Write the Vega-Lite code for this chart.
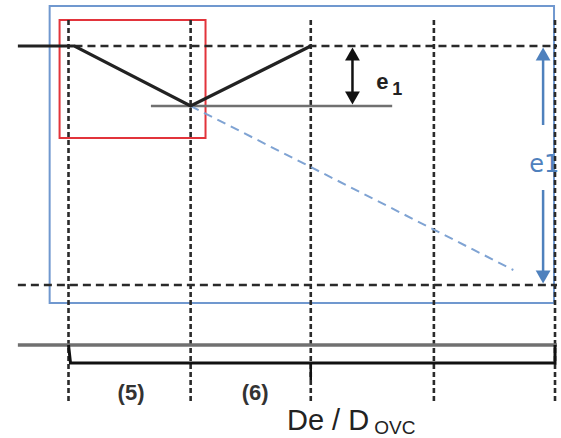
{
  "$schema": "https://vega.github.io/schema/vega-lite/v6.json",
  "autosize": {"type": "fit", "contains": "padding"},
  "width": 561,
  "height": 438,
  "padding": 0,
  "background": "white",
  "config": {"view": {"stroke": null}},
  "datasets": {
    "vdots": [
      {"x": 69, "y": 20, "y2": 402},
      {"x": 192, "y": 20, "y2": 402},
      {"x": 313, "y": 20, "y2": 402},
      {"x": 437, "y": 20, "y2": 402},
      {"x": 559, "y": 20, "y2": 402}
    ],
    "hdash": [
      {"x": 75, "x2": 561, "y": 46},
      {"x": 18, "x2": 561, "y": 285}
    ],
    "profile": [
      {"x": 18, "y": 46, "o": 1},
      {"x": 75, "y": 46, "o": 2},
      {"x": 192, "y": 106, "o": 3},
      {"x": 313, "y": 46, "o": 4}
    ],
    "grayrules": [
      {"x": 152, "x2": 395, "y": 106, "w": 2.5},
      {"x": 18, "x2": 561, "y": 345, "w": 3.5}
    ],
    "bluedash": [
      {"x": 192, "y": 106, "x2": 517, "y2": 270}
    ],
    "boxes": [
      {"x": 50, "x2": 558, "y": 6, "y2": 303, "c": "blue"},
      {"x": 60, "x2": 207, "y": 20, "y2": 138, "c": "red"}
    ],
    "bracket": [
      {"x": 69, "y": 345, "o": 1},
      {"x": 71, "y": 363, "o": 2},
      {"x": 559, "y": 363, "o": 3},
      {"x": 559, "y": 345, "o": 4}
    ],
    "blackrules": [
      {"x": 313, "x2": 313, "y": 363, "y2": 380},
      {"x": 355, "x2": 355, "y": 52, "y2": 100}
    ],
    "bluerules": [
      {"x": 547, "x2": 547, "y": 52, "y2": 125},
      {"x": 547, "x2": 547, "y": 190, "y2": 279}
    ],
    "heads": [
      {"x": 355, "y": 54, "shape": "triangle-up", "c": "black"},
      {"x": 355, "y": 98, "shape": "triangle-down", "c": "black"},
      {"x": 547, "y": 54, "shape": "triangle-up", "c": "blue"},
      {"x": 547, "y": 277, "shape": "triangle-down", "c": "blue"}
    ]
  },
  "layer": [
    {
      "data": {"name": "boxes"},
      "mark": {"type": "rect", "fill": null, "filled": false, "strokeWidth": 2},
      "encoding": {
        "x": {"field": "x", "type": "quantitative", "scale": {"domain": [0, 561], "nice": false, "zero": false}, "axis": null},
        "x2": {"field": "x2"},
        "y": {"field": "y", "type": "quantitative", "scale": {"domain": [0, 438], "nice": false, "zero": false, "reverse": true}, "axis": null},
        "y2": {"field": "y2"},
        "stroke": {"field": "c", "type": "nominal", "scale": {"domain": ["blue", "red", "black"], "range": ["#7098cf", "#e2343b", "#222222"]}, "legend": null}
      }
    },
    {
      "data": {"name": "vdots"},
      "mark": {"type": "rule", "color": "#2a2a2a", "strokeWidth": 2.6, "strokeDash": [5, 3]},
      "encoding": {
        "x": {"field": "x", "type": "quantitative"},
        "y": {"field": "y", "type": "quantitative"},
        "y2": {"field": "y2"}
      }
    },
    {
      "data": {"name": "hdash"},
      "mark": {"type": "rule", "color": "#2a2a2a", "strokeWidth": 2.6, "strokeDash": [8, 5]},
      "encoding": {
        "x": {"field": "x", "type": "quantitative"},
        "x2": {"field": "x2"},
        "y": {"field": "y", "type": "quantitative"}
      }
    },
    {
      "data": {"name": "grayrules"},
      "mark": {"type": "rule", "color": "#707070"},
      "encoding": {
        "x": {"field": "x", "type": "quantitative"},
        "x2": {"field": "x2"},
        "y": {"field": "y", "type": "quantitative"},
        "strokeWidth": {"field": "w", "type": "quantitative", "scale": null}
      }
    },
    {
      "data": {"name": "bluedash"},
      "mark": {"type": "rule", "color": "#7fa3d3", "strokeWidth": 2, "strokeDash": [9, 6]},
      "encoding": {
        "x": {"field": "x", "type": "quantitative"},
        "x2": {"field": "x2"},
        "y": {"field": "y", "type": "quantitative"},
        "y2": {"field": "y2"}
      }
    },
    {
      "data": {"name": "profile"},
      "mark": {"type": "line", "color": "#222222", "strokeWidth": 3.2},
      "encoding": {
        "x": {"field": "x", "type": "quantitative"},
        "y": {"field": "y", "type": "quantitative"},
        "order": {"field": "o", "type": "quantitative"}
      }
    },
    {
      "data": {"name": "bracket"},
      "mark": {"type": "line", "color": "#111111", "strokeWidth": 3},
      "encoding": {
        "x": {"field": "x", "type": "quantitative"},
        "y": {"field": "y", "type": "quantitative"},
        "order": {"field": "o", "type": "quantitative"}
      }
    },
    {
      "data": {"name": "blackrules"},
      "mark": {"type": "rule", "color": "#111111", "strokeWidth": 2.5},
      "encoding": {
        "x": {"field": "x", "type": "quantitative"},
        "x2": {"field": "x2"},
        "y": {"field": "y", "type": "quantitative"},
        "y2": {"field": "y2"}
      }
    },
    {
      "data": {"name": "bluerules"},
      "mark": {"type": "rule", "color": "#4f81bd", "strokeWidth": 2.5},
      "encoding": {
        "x": {"field": "x", "type": "quantitative"},
        "x2": {"field": "x2"},
        "y": {"field": "y", "type": "quantitative"},
        "y2": {"field": "y2"}
      }
    },
    {
      "data": {"name": "heads"},
      "mark": {"type": "point", "filled": true, "opacity": 1, "size": 220},
      "encoding": {
        "x": {"field": "x", "type": "quantitative"},
        "y": {"field": "y", "type": "quantitative"},
        "shape": {"field": "shape", "type": "nominal", "scale": null},
        "color": {"field": "c", "type": "nominal", "scale": {"domain": ["black", "blue"], "range": ["#111111", "#4f81bd"]}, "legend": null}
      }
    },
    {
      "data": {"values": [{"x": 379, "y": 89, "t": "e"}]},
      "mark": {"type": "text", "align": "left", "baseline": "alphabetic", "font": "Liberation Sans", "fontSize": 22, "fontWeight": "bold", "color": "#222222"},
      "encoding": {"x": {"field": "x", "type": "quantitative"}, "y": {"field": "y", "type": "quantitative"}, "text": {"field": "t"}}
    },
    {
      "data": {"values": [{"x": 395, "y": 95, "t": "1"}]},
      "mark": {"type": "text", "align": "left", "baseline": "alphabetic", "font": "Liberation Sans", "fontSize": 18, "fontWeight": "bold", "color": "#222222"},
      "encoding": {"x": {"field": "x", "type": "quantitative"}, "y": {"field": "y", "type": "quantitative"}, "text": {"field": "t"}}
    },
    {
      "data": {"values": [{"x": 533, "y": 172, "t": "e1"}]},
      "mark": {"type": "text", "align": "left", "baseline": "alphabetic", "font": "DejaVu Sans", "fontSize": 24, "color": "#4f81bd"},
      "encoding": {"x": {"field": "x", "type": "quantitative"}, "y": {"field": "y", "type": "quantitative"}, "text": {"field": "t"}}
    },
    {
      "data": {"values": [{"x": 132, "y": 400, "t": "(5)"}, {"x": 257, "y": 400, "t": "(6)"}]},
      "mark": {"type": "text", "align": "center", "baseline": "alphabetic", "font": "Liberation Sans", "fontSize": 22, "fontWeight": "bold", "color": "#333333"},
      "encoding": {"x": {"field": "x", "type": "quantitative"}, "y": {"field": "y", "type": "quantitative"}, "text": {"field": "t"}}
    },
    {
      "data": {"values": [{"x": 289, "y": 430, "t": "De / D"}]},
      "mark": {"type": "text", "align": "left", "baseline": "alphabetic", "font": "Liberation Sans", "fontSize": 29, "color": "#222222"},
      "encoding": {"x": {"field": "x", "type": "quantitative"}, "y": {"field": "y", "type": "quantitative"}, "text": {"field": "t"}}
    },
    {
      "data": {"values": [{"x": 377, "y": 434, "t": "OVC"}]},
      "mark": {"type": "text", "align": "left", "baseline": "alphabetic", "font": "Liberation Sans", "fontSize": 19, "color": "#222222"},
      "encoding": {"x": {"field": "x", "type": "quantitative"}, "y": {"field": "y", "type": "quantitative"}, "text": {"field": "t"}}
    }
  ]
}
